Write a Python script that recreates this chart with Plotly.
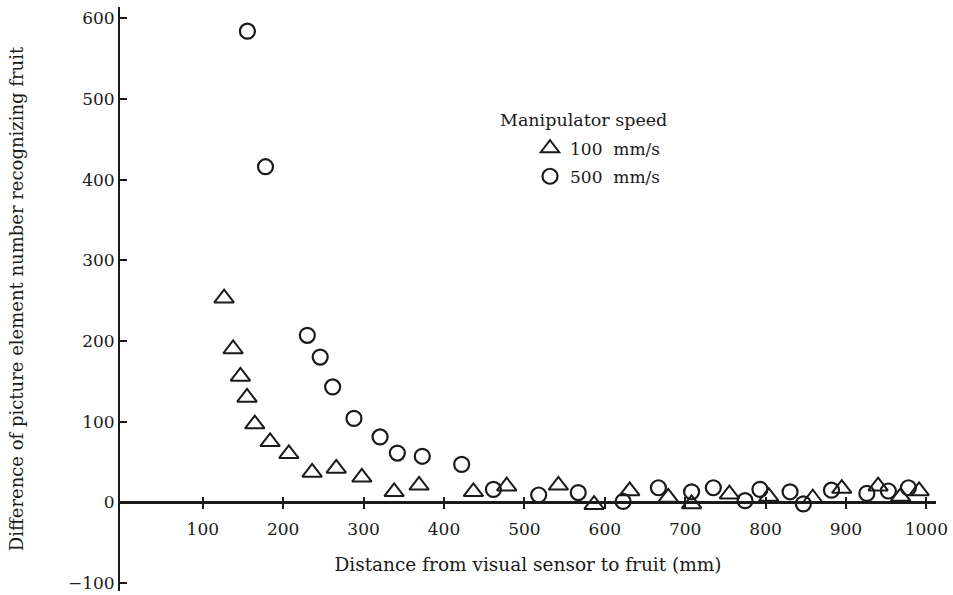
import plotly.graph_objects as go

# ---- data ----
tri_x = [126.5, 137.7, 146.8, 155, 164.7, 183.7, 207, 236, 266, 297.8, 338, 369,
         436.6, 478, 542.3, 586.7, 631, 679, 708, 755, 804, 858.7, 894.8, 940, 968, 991]
tri_y = [253, 190, 156, 130, 97, 75, 60, 37, 42, 31, 13, 21,
         13, 20, 21, -3, 14, 6, -2, 10, 7, 5, 17, 20, 7, 14]

circ_x = [155.5, 178, 230, 246, 261.5, 288, 320.5, 342, 373, 422, 461.5, 517.8, 567,
          622.8, 666.7, 708, 735, 774.5, 793, 830.5, 847, 882, 926, 952.7, 977.7]
circ_y = [584, 416, 207, 180, 143, 104, 81, 61, 57, 47, 16, 9, 12,
          1, 18, 13, 18, 2, 16, 13, -2, 15, 11, 14, 18]

x_ticks = [100, 200, 300, 400, 500, 600, 700, 800, 900, 1000]
y_ticks = [-100, 0, 100, 200, 300, 400, 500, 600]

series_names = ["100  mm/s", "500  mm/s"]
legend_title = "Manipulator speed"
x_title = "Distance from visual sensor to fruit (mm)"
y_title = "Difference of picture element number recognizing fruit"

FONT = "DejaVu Serif"
INK = "#1a1a1a"

x_range = [-3, 1012]
y_range = [-110, 614]
x_axis_pos = (0 - y_range[0]) / (y_range[1] - y_range[0])

fig = go.Figure()
fig.add_trace(go.Scatter(
    x=tri_x, y=tri_y, mode="markers", name=series_names[0], legendgroup="a",
    marker=dict(symbol="triangle-up-open", size=17, color=INK, line=dict(width=2, color=INK)),
))
fig.add_trace(go.Scatter(
    x=circ_x, y=circ_y, mode="markers", name=series_names[1], legendgroup="b",
    marker=dict(symbol="circle-open", size=15, color=INK, line=dict(width=2.2, color=INK)),
))
# helper (empty) trace for the upper half of the crossing x ticks
fig.add_trace(go.Scatter(x=[], y=[], xaxis="x2", showlegend=False, hoverinfo="skip"))

fig.update_layout(
    width=953, height=595,
    margin=dict(l=120, r=17, t=7, b=2),
    paper_bgcolor="white", plot_bgcolor="white",
    font=dict(family=FONT, size=16, color=INK),
    showlegend=True,
    legend=dict(
        x=(530 - 120) / 816, y=(593 - 131) / 586, xanchor="left", yanchor="top",
        bgcolor="rgba(0,0,0,0)", font=dict(family=FONT, size=17, color=INK),
        traceorder="grouped", tracegroupgap=3,
    ),
    xaxis=dict(
        range=x_range, anchor="free", position=x_axis_pos,
        showline=True, linewidth=2.5, linecolor=INK,
        ticks="outside", ticklen=5, tickwidth=1.5, tickcolor=INK,
        tickvals=x_ticks, ticktext=[str(v) for v in x_ticks],
        tickfont=dict(family=FONT, size=17, color=INK), ticklabelstandoff=6,
        showgrid=False, zeroline=False,
        title=dict(text=x_title, standoff=19, font=dict(family=FONT, size=18.5, color=INK)),
    ),
    xaxis2=dict(
        range=x_range, overlaying="x", matches="x", anchor="free", position=x_axis_pos,
        showline=False, ticks="inside", ticklen=5, tickwidth=1.5, tickcolor=INK,
        tickvals=x_ticks, showticklabels=False, showgrid=False, zeroline=False,
    ),
    yaxis=dict(
        range=y_range, showline=True, linewidth=2, linecolor=INK,
        ticks="inside", ticklen=7, tickwidth=2, tickcolor=INK,
        tickvals=y_ticks, ticktext=[str(v).replace("-", "\u2212") for v in y_ticks],
        tickfont=dict(family=FONT, size=17, color=INK), ticklabelstandoff=0,
        showgrid=False, zeroline=False,
        title=dict(text=y_title, standoff=40, font=dict(family=FONT, size=18, color=INK)),
    ),
    annotations=[dict(
        text=legend_title, xref="paper", yref="paper",
        x=(498 - 120) / 816, y=(593 - 120) / 586, xanchor="left", yanchor="middle",
        showarrow=False, font=dict(family=FONT, size=17.5, color=INK),
    )],
)

fig.write_html("out.html")
